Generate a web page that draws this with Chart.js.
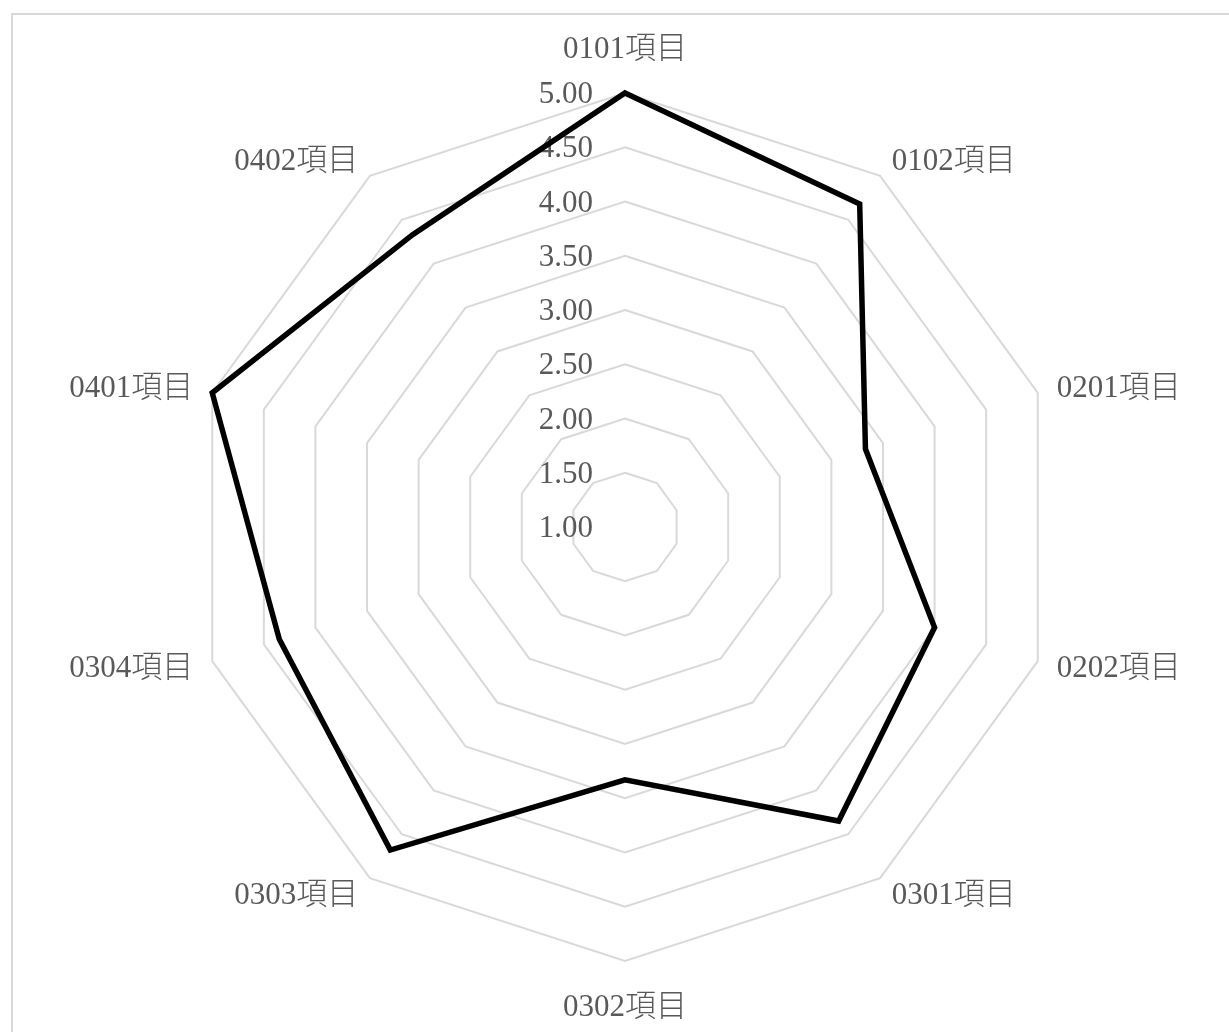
<!DOCTYPE html>
<html>
<head>
<meta charset="utf-8">
<script src="https://cdn.jsdelivr.net/npm/chart.js@4/dist/chart.umd.min.js"></script>
<style>
  html, body { margin: 0; padding: 0; background: #fff; overflow: hidden; }
  #wrap { position: relative; width: 1229px; height: 1032px; }
  #frame {
    position: absolute; left: 11px; top: 13px; width: 1300px; height: 1100px;
    border: 2px solid #d9d9d9; box-sizing: border-box; pointer-events: none;
  }
  canvas { position: absolute; left: 0; top: 0; }
</style>
</head>
<body>
<div id="wrap">
  <div id="frame"></div>
  <canvas id="chart" width="1229" height="1032"></canvas>
</div>
<script>
const categories = ['0101項目', '0102項目', '0201項目', '0202項目', '0301項目',
  '0302項目', '0303項目', '0304項目', '0401項目', '0402項目'];
const scores = [5.00, 4.68, 3.33, 4.00, 4.35, 3.33, 4.68, 4.35, 5.00, 4.33];
const tickValues = [1.0, 1.5, 2.0, 2.5, 3.0, 3.5, 4.0, 4.5, 5.0];

const FONT = '300 31px "Liberation Serif", "Noto Sans CJK TC", serif';
const TEXT_COLOR = '#595959';

// tick labels sit left of the vertical axis, like the office chart
const tickLabelPlugin = {
  id: 'tickLabels',
  beforeDatasetsDraw(chart) {
    const s = chart.scales.r;
    const ctx = chart.ctx;
    ctx.save();
    ctx.font = FONT;
    ctx.fillStyle = TEXT_COLOR;
    ctx.textAlign = 'right';
    ctx.textBaseline = 'middle';
    s.ticks.forEach(t => {
      const y = s.yCenter - s.getDistanceFromCenterForValue(t.value);
      ctx.fillText(t.value.toFixed(2), s.xCenter - 32, y + 2);
    });
    ctx.restore();
  }
};

const pointLabelPlugin = {
  id: 'catLabels',
  afterDraw(chart) {
    const s = chart.scales.r;
    const ctx = chart.ctx;
    ctx.save();
    ctx.font = FONT;
    ctx.fillStyle = TEXT_COLOR;
    ctx.textBaseline = 'middle';
    categories.forEach((label, i) => {
      const a = s.getIndexAngle(i);
      const sin = Math.sin(a);
      const onAxis = Math.abs(sin) < 0.01;
      const pos = s.getPointPosition(i, s.drawingArea + (onAxis ? 45 : 20));
      ctx.textAlign = onAxis ? 'center' : (sin > 0 ? 'left' : 'right');
      ctx.fillText(label, pos.x, pos.y + 2);
    });
    ctx.restore();
  }
};

const ctx = document.getElementById('chart').getContext('2d');
new Chart(ctx, {
  type: 'radar',
  data: {
    labels: categories,
    datasets: [{
      label: 'score',
      data: scores,
      borderColor: '#000000',
      borderWidth: 5.5,
      borderJoinStyle: 'miter',
      pointRadius: 0,
      pointHoverRadius: 0,
      fill: false,
      tension: 0
    }]
  },
  options: {
    responsive: false,
    animation: false,
    devicePixelRatio: 1,
    layout: { padding: { left: 21, right: 0, top: 93, bottom: 71 } },
    plugins: { legend: { display: false }, tooltip: { enabled: false } },
    scales: {
      r: {
        min: 1,
        max: 5,
        afterBuildTicks: s => { s.ticks = tickValues.map(v => ({ value: v })); },
        ticks: { display: false },
        pointLabels: { display: false },
        angleLines: { display: false },
        grid: { color: '#d9d9d9', lineWidth: 2 }
      }
    }
  },
  plugins: [tickLabelPlugin, pointLabelPlugin]
});
</script>
</body>
</html>
